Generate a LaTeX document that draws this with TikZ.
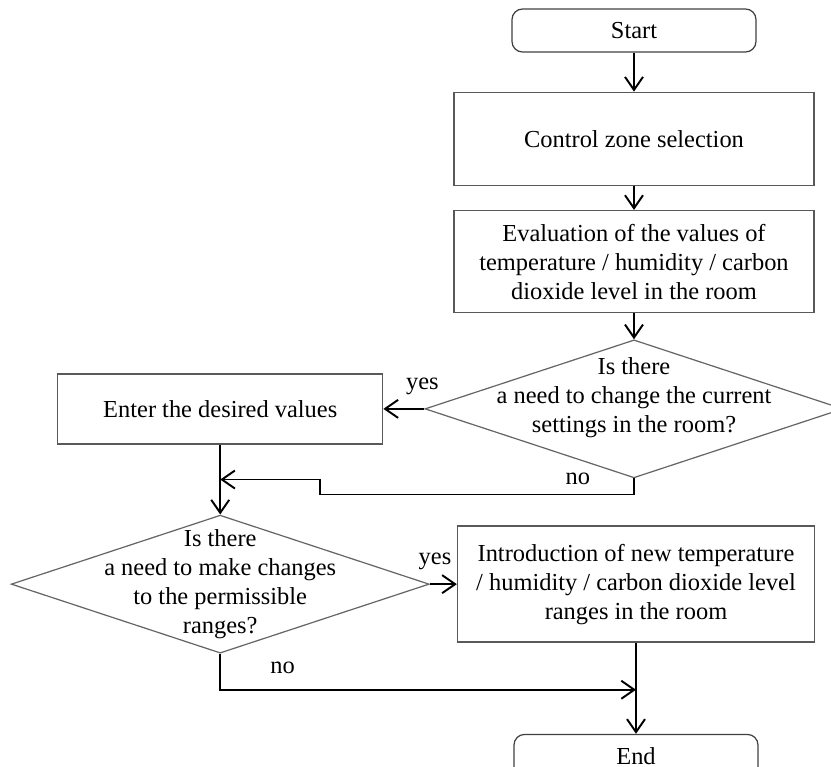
\documentclass[tikz,border=0pt]{standalone}
\usepackage{fontspec}
\setmainfont{Liberation Serif}
\usepackage{tikz}
\usetikzlibrary{shapes.geometric,arrows.meta,positioning}
\tikzset{
  fc_term/.style={rectangle,rounded corners=6pt,
    draw=black!75,line width=0.7pt,
    minimum width=4.88cm,minimum height=0.86cm,
    inner sep=2pt},
  fc_box/.style={rectangle,
    draw=black!65,line width=0.75pt,
    align=center,inner sep=2pt},
  fc_cond/.style={diamond,
    draw=black!60,line width=0.7pt,
    minimum width=8.36cm,minimum height=2.76cm,
    inner sep=0pt},
  fc_txt/.style={align=center,inner sep=0pt},
  arr/.style={-{Straight Barb[length=2.6mm,width=3.6mm]},
    line width=1.1pt,draw=black},
  lbl/.style={inner sep=0pt},
}

\begin{document}
\begin{tikzpicture}[every node/.style={font=\fontsize{13.9}{16.5}\selectfont}]
  \useasboundingbox (0,0) rectangle (16.62,-15.32);
  \node (start) [fc_term] at (12.68,-0.61) {Start};
  \node (zone)  [fc_box, minimum width=7.2cm, minimum height=1.86cm,
                 below=0.78cm of start] {Control zone selection};
  \node (eval)  [fc_box, minimum width=7.2cm, minimum height=2.04cm,
                 below=0.48cm of zone]
    {Evaluation of the values of\\
     temperature / humidity / carbon\\
     dioxide level in the room};
  % first question: the text sits a little above the centre
  \node (d1) [fc_cond, below=0.52cm of eval] {};
  \node (q1) [fc_txt] at ([yshift=0.22cm]d1.center)
    {Is there\\ a need to change the current\\ settings in the room?};
  \node (enter) [fc_box, minimum width=6.5cm, minimum height=1.4cm,
                 left=0.82cm of d1] {Enter the desired values};
  \node (d2) [fc_cond, below=1.4cm of enter] {};
  \node (q2) [fc_txt] at (d2.center)
    {Is there\\ a need to make changes\\ to the permissible\\ ranges?};
  \node (intro) [fc_box, minimum width=7.14cm, minimum height=2.32cm,
                 right=0.54cm of d2]
    {Introduction of new temperature\\
     / humidity / carbon dioxide level\\
     ranges in the room};
  \node (end) [fc_term, below=1.82cm of intro] {End};

  \coordinate (m1) at ([yshift=-0.7cm]enter.south);

  \draw[arr] (start) -- (zone);
  \draw[arr] (zone) -- (eval);
  \draw[arr] (eval) -- (d1);
  \draw[arr] (d1.west) -- node[lbl, pos=0.05, above=0.26cm]{yes} (enter);
  \draw[arr] (d1.south) node[lbl, left=0.86cm]{no}
    -- ++(0,-0.32) -| ([xshift=2cm]m1) -- (m1);
  \draw[arr] (enter) -- (d2);
  \draw[arr] (d2.east) -- node[lbl, pos=0.19, above=0.26cm]{yes} (intro);
  \draw[arr] (d2.south) -- ++(0,-0.72) coordinate (m2)
    -- node[lbl, pos=0.15, above=0.3cm]{no} (m2 -| intro.south);
  \draw[arr] (intro.south) -- (intro.south |- end.north);
\end{tikzpicture}
\end{document}
